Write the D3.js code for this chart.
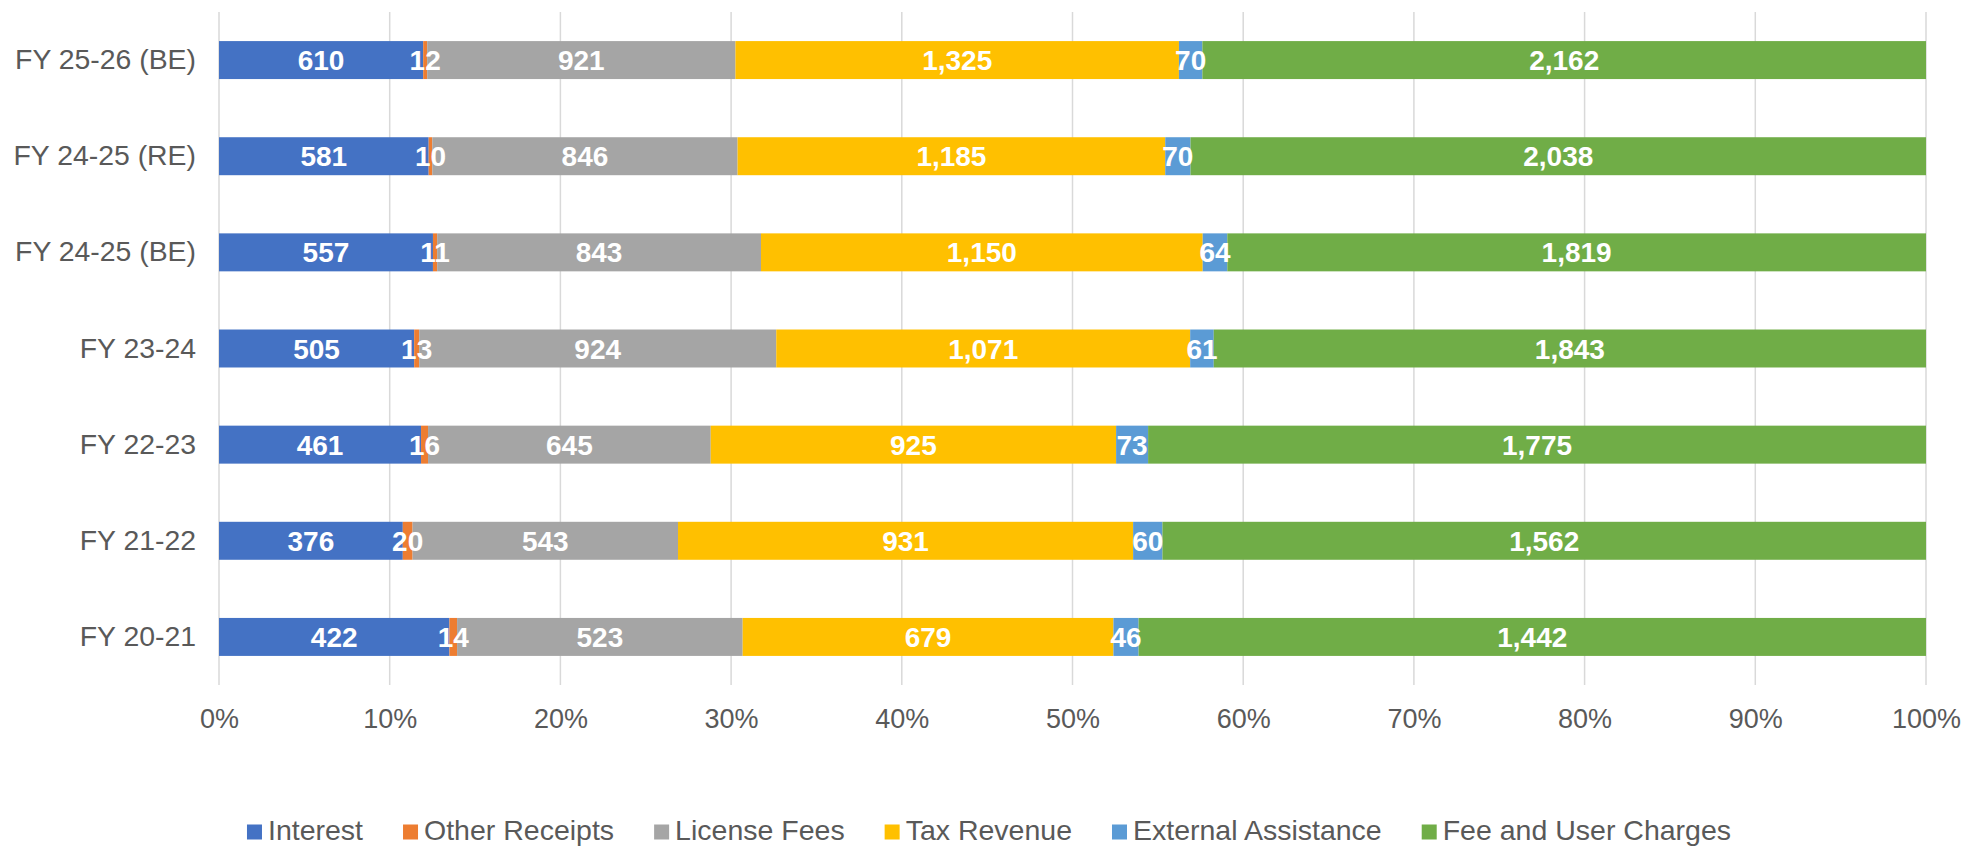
<!DOCTYPE html>
<html>
<head>
<meta charset="utf-8">
<script src="https://cdn.jsdelivr.net/npm/d3@7"></script>
<style>
  html, body { margin: 0; padding: 0; background: #fff; }
  svg { display: block; font-family: Arial, "Liberation Sans", sans-serif; }
</style>
</head>
<body>
<svg id="chart" width="1964" height="846"></svg>
<script>
const categories = ["FY 25-26 (BE)", "FY 24-25 (RE)", "FY 24-25 (BE)", "FY 23-24", "FY 22-23", "FY 21-22", "FY 20-21"];
const seriesNames = ["Interest", "Other Receipts", "License Fees", "Tax Revenue", "External Assistance", "Fee and User Charges"];
const interest = [610, 581, 557, 505, 461, 376, 422];
const otherReceipts = [12, 10, 11, 13, 16, 20, 14];
const licenseFees = [921, 846, 843, 924, 645, 543, 523];
const taxRevenue = [1325, 1185, 1150, 1071, 925, 931, 679];
const externalAssistance = [70, 70, 64, 61, 73, 60, 46];
const feeUserCharges = [2162, 2038, 1819, 1843, 1775, 1562, 1442];
const xTicks = [0, 0.1, 0.2, 0.3, 0.4, 0.5, 0.6, 0.7, 0.8, 0.9, 1.0];
const colors = ["#4472C4", "#ED7D31", "#A5A5A5", "#FFC000", "#5B9BD5", "#70AD47"];

const seriesValues = [interest, otherReceipts, licenseFees, taxRevenue, externalAssistance, feeUserCharges];

(function () {
const svg = d3.select("#chart");
const pLeft = 219, pRight = 1926, pTop = 12, pBottom = 685;

const x = d3.scaleLinear().domain([0, 1]).range([pLeft, pRight]);
const y = d3.scaleBand().domain(categories).range([pTop, pBottom]).paddingInner(0.605).paddingOuter(0.3025);

// gridlines
svg.append("g").selectAll("line").data(xTicks).join("line")
  .attr("x1", d => x(d)).attr("x2", d => x(d))
  .attr("y1", pTop).attr("y2", pBottom)
  .attr("stroke", "#D9D9D9").attr("stroke-width", 1.5);

// build rows
const rows = categories.map((c, i) => {
  const vals = seriesValues.map(s => s[i]);
  const total = d3.sum(vals);
  let cum = 0;
  return vals.map((v, k) => {
    const seg = { cat: c, k, v, x0: cum / total, x1: (cum + v) / total };
    cum += v;
    return seg;
  });
});
const segs = rows.flat();

svg.append("g").selectAll("rect").data(segs).join("rect")
  .attr("x", d => x(d.x0))
  .attr("width", d => x(d.x1) - x(d.x0))
  .attr("y", d => y(d.cat))
  .attr("height", y.bandwidth())
  .attr("fill", d => colors[d.k]);

// data labels
svg.append("g").selectAll("text").data(segs).join("text")
  .attr("x", d => (x(d.x0) + x(d.x1)) / 2)
  .attr("y", d => y(d.cat) + y.bandwidth() / 2)
  .attr("dy", "0.36em")
  .attr("text-anchor", "middle")
  .attr("font-size", 28)
  .attr("font-weight", "bold")
  .attr("fill", "#FFFFFF")
  .text(d => d3.format(",")(d.v));

// y axis labels
const yAxis = d3.axisLeft(y).tickSize(0).tickPadding(23);
const gy = svg.append("g").attr("transform", `translate(${pLeft},0)`).call(yAxis);
gy.select(".domain").remove();
gy.selectAll("text").attr("font-size", 28.4).attr("fill", "#595959")
  .attr("font-family", 'Arial, "Liberation Sans", sans-serif');

// x axis labels
const xAxis = d3.axisBottom(x).tickValues(xTicks).tickFormat(d3.format(".0%")).tickSize(0).tickPadding(0);
const gx = svg.append("g").attr("transform", `translate(0,${pBottom})`).call(xAxis);
gx.select(".domain").remove();
gx.selectAll("text").attr("font-size", 27).attr("fill", "#595959")
  .attr("y", 43).attr("dy", 0)
  .attr("font-family", 'Arial, "Liberation Sans", sans-serif');

// legend
const legend = svg.append("g");
const items = legend.selectAll("g").data(seriesNames).join("g");
items.append("rect").attr("width", 15).attr("height", 15).attr("y", -15.5)
  .attr("fill", (d, i) => colors[i]);
items.append("text").attr("x", 21).attr("y", 0)
  .attr("font-size", 28.5).attr("fill", "#595959").text(d => d);
let pos = 0;
const offsets = [];
items.each(function (d, i) {
  const w = d3.select(this).select("text").node().getComputedTextLength();
  offsets.push(pos);
  pos += 21 + w + 40;
});
const totalW = pos - 40;
const startX = 989 - totalW / 2;
items.attr("transform", (d, i) => `translate(${startX + offsets[i]},840)`);
})();
</script>
</body>
</html>
